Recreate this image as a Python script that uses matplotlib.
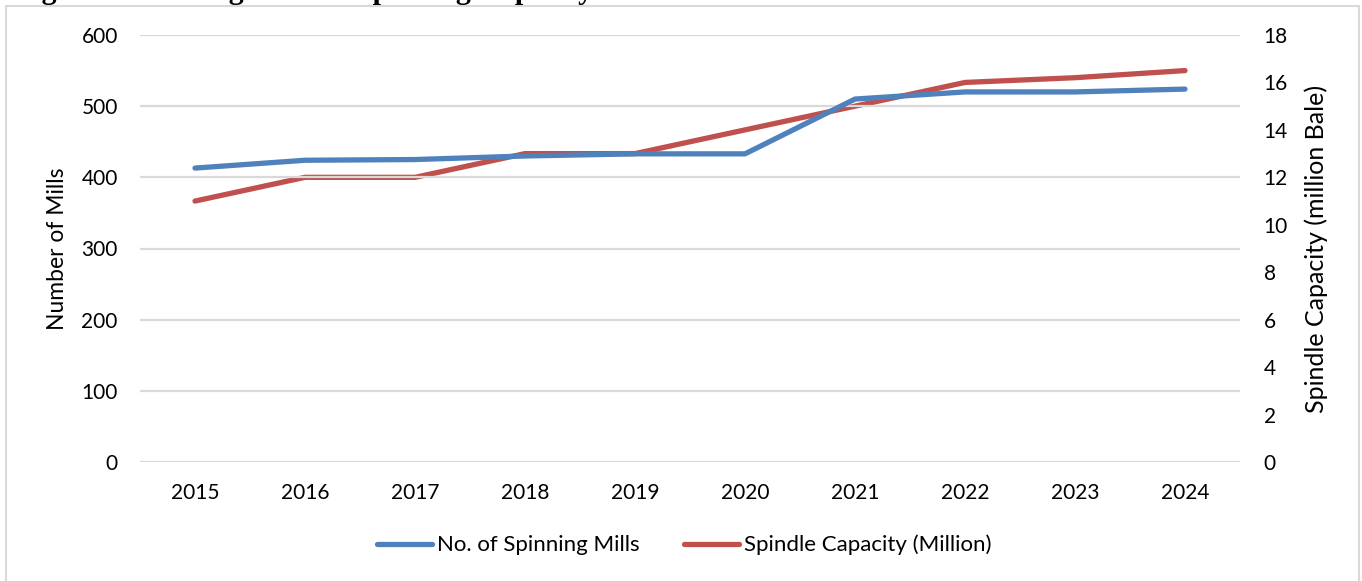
import matplotlib
matplotlib.use("Agg")
import matplotlib.pyplot as plt
from matplotlib.patches import Rectangle
from matplotlib.lines import Line2D

years = ["2015", "2016", "2017", "2018", "2019", "2020", "2021", "2022", "2023", "2024"]
spinning_mills = [413, 424, 425, 430, 433, 433, 510, 520, 520, 524]
spindle_capacity = [11.0, 12.0, 12.0, 13.0, 13.0, 14.0, 15.0, 16.0, 16.2, 16.5]
left_ticks = [0, 100, 200, 300, 400, 500, 600]
right_ticks = [0, 2, 4, 6, 8, 10, 12, 14, 16, 18]

BLUE = "#4F81BD"
RED = "#C0504D"
GRID = "#D9D9D9"
FONT = "Lato"

W, H = 1362, 581
fig = plt.figure(figsize=(W / 100, H / 100), dpi=100)

# chart frame
fig.patches.append(Rectangle((6 / W, -0.05), (1359 - 6) / W, 1.05 - 6 / H,
                             transform=fig.transFigure, fill=False,
                             edgecolor=GRID, linewidth=1.5))

# figure caption, clipped by the top edge of the page
fig.text(15 / W, 1.0 + 1 / H, "Figure 1: Existing Mills & Spinning Capacity",
         family="Liberation Serif", weight="bold", fontsize=21.5,
         ha="left", va="baseline")

ax = fig.add_axes([140 / W, 1 - 462 / H, 1100 / W, (462 - 35) / H])
ax2 = ax.twinx()

x = list(range(len(years)))
ax.plot(x, spinning_mills, color=BLUE, linewidth=3.8, solid_capstyle="round",
        solid_joinstyle="round", zorder=3)
ax2.plot(x, spindle_capacity, color=RED, linewidth=3.8, solid_capstyle="round",
         solid_joinstyle="round", zorder=3)

ax.set_xlim(-0.5, len(years) - 0.5)
ax.set_ylim(0, 600)
ax2.set_ylim(0, 18)
ax.set_yticks(left_ticks)
ax2.set_yticks(right_ticks)
ax.set_xticks(x)
ax.set_xticklabels(years)

for a in (ax, ax2):
    for s in a.spines.values():
        s.set_visible(False)
    a.tick_params(length=0, labelsize=15, labelcolor="black")
    for lab in a.get_xticklabels() + a.get_yticklabels():
        lab.set_fontfamily(FONT)

ax.tick_params(axis="x", pad=15)
ax.tick_params(axis="y", pad=16)
ax2.tick_params(axis="y", pad=17)
ax.yaxis.grid(True, color=GRID, linewidth=1.6)
ax.set_axisbelow(True)
ax.set_zorder(ax2.get_zorder() + 1)
ax.patch.set_visible(False)

ax.set_ylabel("Number of Mills", family=FONT, fontsize=16.5, labelpad=10)
ax2.set_ylabel("Spindle Capacity (million Bale)", family=FONT, fontsize=18,
               labelpad=12)

handles = [Line2D([], [], color=BLUE, linewidth=3.8, solid_capstyle="round"),
           Line2D([], [], color=RED, linewidth=3.8, solid_capstyle="round")]
fig.legend(handles, ["No. of Spinning Mills", "Spindle Capacity (Million)"],
           loc="center", bbox_to_anchor=(684 / W, 1 - 545 / H), ncol=2,
           frameon=False, prop={"family": FONT, "size": 16},
           handlelength=2.5, handletextpad=0.2, columnspacing=2.0)

fig.savefig("out.png", dpi=100)
